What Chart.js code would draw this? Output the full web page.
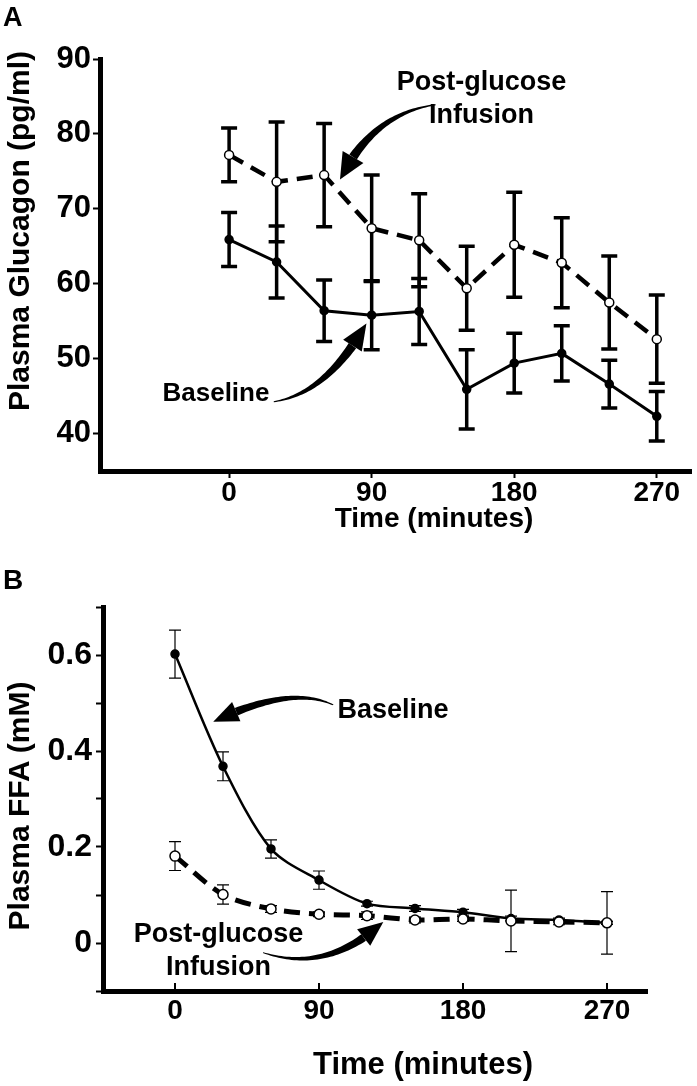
<!DOCTYPE html>
<html>
<head>
<meta charset="utf-8">
<script src="https://cdn.jsdelivr.net/npm/chart.js@4.4.1/dist/chart.umd.min.js"></script>
<style>
  html, body { margin: 0; padding: 0; background: #fff; }
  body { width: 697px; height: 1086px; position: relative; overflow: hidden;
         font-family: "Liberation Sans", Arial, sans-serif; font-weight: bold; color: #000; }
  .panel { position: absolute; left: 0; width: 697px; }
  .lbl { position: absolute; line-height: 1; white-space: nowrap; }
  .ctr { transform: translate(-50%, -50%); }
  .rot { transform: translate(-50%, -50%) rotate(-90deg); }
</style>
</head>
<body>
<div class="panel" style="top:0;height:545px"><canvas id="glucagonChart"></canvas></div>
<div class="panel" style="top:545px;height:541px"><canvas id="ffaChart"></canvas></div>

<div class="lbl" style="left:3px;top:4px;font-size:27px">A</div>
<div class="lbl" style="left:3px;top:566px;font-size:28px">B</div>
<div class="lbl rot" style="left:19px;top:231px;font-size:30px">Plasma Glucagon (pg/ml)</div>
<div class="lbl ctr" style="left:434px;top:518px;font-size:28px">Time (minutes)</div>
<div class="lbl rot" style="left:19px;top:806px;font-size:30px">Plasma FFA (mM)</div>
<div class="lbl ctr" style="left:423px;top:1063px;font-size:31px">Time (minutes)</div>

<script>
// sampling times (minutes)
const times = [0, 30, 60, 90, 120, 150, 180, 210, 240, 270];

// panel A - plasma glucagon (pg/ml), mean and SEM
const glucBaseline = [65.9, 62.9, 56.4, 55.8, 56.3, 45.9, 49.4, 50.7, 46.6, 42.3];
const glucBaselineErr = [3.6, 4.8, 4.1, 4.6, 4.4, 5.3, 4.0, 3.7, 3.2, 3.3];
const glucPost = [77.2, 73.6, 74.5, 67.4, 65.8, 59.4, 65.2, 62.8, 57.5, 52.6];
const glucPostErr = [3.6, 8.0, 6.9, 7.1, 6.2, 5.6, 7.0, 6.0, 6.2, 5.9];

// panel B - plasma FFA (mM), mean and SEM
const ffaBaseline = [0.602, 0.368, 0.196, 0.131, 0.082, 0.072, 0.064, 0.051, 0.048, 0.042];
const ffaBaselineErr = [0.050, 0.030, 0.019, 0.019, 0.005, 0.006, 0.006, 0.005, 0.004, 0.003];
const ffaPost = [0.181, 0.101, 0.071, 0.060, 0.057, 0.048, 0.050, 0.046, 0.044, 0.042];
const ffaPostErr = [0.030, 0.020, 0.007, 0.005, 0.008, 0.006, 0.005, 0.064, 0.006, 0.065];

// tick labels
const timeTicks = [0, 90, 180, 270];
const glucTicks = [40, 50, 60, 70, 80, 90];
const ffaTicks = [-0.1, 0, 0.1, 0.2, 0.3, 0.4, 0.5, 0.6, 0.7];
const ffaLabelled = [0, 0.2, 0.4, 0.6];

const FONT = '"Liberation Sans", Arial, sans-serif';

function toPoints(values) {
    return values.map(function (v, i) { return { x: times[i], y: v }; });
}

// tapered curved arrow (quadratic bezier) with a filled head
function drawArrow(ctx, p0, c, p2, w0, w1, headLen, headW) {
    const at = function (u) {
        return {
            x: (1 - u) * (1 - u) * p0.x + 2 * (1 - u) * u * c.x + u * u * p2.x,
            y: (1 - u) * (1 - u) * p0.y + 2 * (1 - u) * u * c.y + u * u * p2.y
        };
    };
    let uh = 1;
    for (let u = 1; u > 0; u -= 0.002) {
        const q = at(u);
        if (Math.hypot(q.x - p2.x, q.y - p2.y) >= headLen) { uh = u; break; }
    }
    const n = 40, left = [], right = [];
    for (let i = 0; i <= n; i++) {
        const u = uh * i / n, q = at(u);
        const dx = 2 * (1 - u) * (c.x - p0.x) + 2 * u * (p2.x - c.x);
        const dy = 2 * (1 - u) * (c.y - p0.y) + 2 * u * (p2.y - c.y);
        const len = Math.hypot(dx, dy) || 1;
        const w = (w0 + (w1 - w0) * i / n) / 2;
        left.push([q.x - dy / len * w, q.y + dx / len * w]);
        right.push([q.x + dy / len * w, q.y - dx / len * w]);
    }
    ctx.beginPath();
    left.forEach(function (p, i) { i ? ctx.lineTo(p[0], p[1]) : ctx.moveTo(p[0], p[1]); });
    right.reverse().forEach(function (p) { ctx.lineTo(p[0], p[1]); });
    ctx.closePath();
    ctx.fill();

    const b = at(uh);
    const hx = p2.x - b.x, hy = p2.y - b.y, hl = Math.hypot(hx, hy) || 1;
    ctx.beginPath();
    ctx.moveTo(p2.x, p2.y);
    ctx.lineTo(b.x - hy / hl * headW / 2, b.y + hx / hl * headW / 2);
    ctx.lineTo(b.x + hy / hl * headW / 2, b.y - hx / hl * headW / 2);
    ctx.closePath();
    ctx.fill();
}

const errorBars = {
    id: 'errorBars',
    beforeDatasetsDraw(chart, args, opts) {
        const ctx = chart.ctx, ys = chart.scales.y;
        ctx.save();
        ctx.strokeStyle = '#000';
        ctx.lineWidth = opts.width;
        chart.data.datasets.forEach(function (ds, i) {
            chart.getDatasetMeta(i).data.forEach(function (pt, j) {
                const v = ds.data[j].y, e = ds.errors[j];
                const top = ys.getPixelForValue(v + e), bot = ys.getPixelForValue(v - e);
                ctx.beginPath();
                ctx.moveTo(pt.x, top); ctx.lineTo(pt.x, bot);
                ctx.moveTo(pt.x - opts.cap, top); ctx.lineTo(pt.x + opts.cap, top);
                ctx.moveTo(pt.x - opts.cap, bot); ctx.lineTo(pt.x + opts.cap, bot);
                ctx.stroke();
            });
        });
        ctx.restore();
    }
};

const callouts = {
    id: 'callouts',
    afterDatasetsDraw(chart, args, opts) {
        const ctx = chart.ctx, xs = chart.scales.x, ys = chart.scales.y;
        const px = function (p) { return { x: xs.getPixelForValue(p[0]), y: ys.getPixelForValue(p[1]) }; };
        ctx.save();
        ctx.fillStyle = '#000';
        ctx.strokeStyle = '#000';
        ctx.textAlign = 'center';
        ctx.textBaseline = 'middle';
        opts.texts.forEach(function (t) {
            const p = px(t.at);
            ctx.font = 'bold ' + t.size + 'px ' + FONT;
            ctx.fillText(t.text, p.x, p.y);
        });
        opts.arrows.forEach(function (a) {
            drawArrow(ctx, px(a.from), px(a.bend), px(a.to), 1, a.width, a.head, a.headW);
        });
        // inward x ticks (panel B)
        if (opts.innerTicks) {
            ctx.lineWidth = 2;
            opts.innerTicks.forEach(function (t) {
                const x = xs.getPixelForValue(t);
                ctx.beginPath();
                ctx.moveTo(x, chart.chartArea.bottom);
                ctx.lineTo(x, chart.chartArea.bottom - 8);
                ctx.stroke();
            });
        }
        ctx.restore();
    }
};

function axisFont(size) {
    return { family: FONT, size: size, weight: 'bold', lineHeight: 1 };
}

function lineSet(label, values, errors, dashed, open, width, radius, tension) {
    return {
        label: label,
        data: toPoints(values),
        errors: errors,
        borderColor: '#000',
        borderWidth: width,
        borderDash: dashed ? [16, 9] : [],
        pointRadius: radius,
        pointBackgroundColor: open ? '#fff' : '#000',
        pointBorderColor: '#000',
        pointBorderWidth: 1.5,
        tension: tension,
        fill: false
    };
}

new Chart(document.getElementById('glucagonChart'), {
    type: 'line',
    data: {
        datasets: [
            lineSet('Post-glucose Infusion', glucPost, glucPostErr, true, true, 4.5, 4.5, 0),
            lineSet('Baseline', glucBaseline, glucBaselineErr, false, false, 3, 4, 0)
        ]
    },
    options: {
        responsive: true,
        maintainAspectRatio: false,
        animation: false,
        events: [],
        layout: { padding: { top: 59, right: 2, left: 0, bottom: 0 } },
        plugins: {
            legend: { display: false },
            tooltip: { enabled: false },
            errorBars: { width: 3.5, cap: 8 },
            callouts: {
                texts: [
                    { text: 'Post-glucose', at: [159.3, 86.8], size: 27 },
                    { text: 'Infusion', at: [159.3, 82.4], size: 27 },
                    { text: 'Baseline', at: [-8.3, 45.3], size: 26 }
                ],
                arrows: [
                    { from: [130.4, 83.9], bend: [90.3, 82.7], to: [70.0, 73.9], width: 9, head: 26, headW: 24 },
                    { from: [28.2, 44.25], bend: [61.8, 45.35], to: [86.7, 54.7], width: 9, head: 26, headW: 22 }
                ]
            }
        },
        scales: {
            x: {
                type: 'linear', min: -81.5, max: 291.6,
                afterBuildTicks: function (s) { s.ticks = timeTicks.map(function (v) { return { value: v }; }); },
                afterFit: function (s) { s.height = 74; },
                border: { display: true, color: '#000', width: 5 },
                grid: { drawOnChartArea: false, color: '#000', tickLength: 7, tickWidth: 2 },
                ticks: { color: '#000', font: axisFont(28), padding: 1, maxRotation: 0, autoSkip: false }
            },
            y: {
                min: 35, max: 90,
                afterBuildTicks: function (s) { s.ticks = glucTicks.map(function (v) { return { value: v }; }); },
                afterFit: function (s) { s.width = 100; },
                border: { display: true, color: '#000', width: 5 },
                grid: { drawOnChartArea: false, color: '#000', tickLength: 7, tickWidth: 2 },
                ticks: { color: '#000', font: axisFont(31), padding: 2, autoSkip: false }
            }
        }
    },
    plugins: [errorBars, callouts]
});

new Chart(document.getElementById('ffaChart'), {
    type: 'line',
    data: {
        datasets: [
            // first dataset is drawn on top: open circles cover the filled ones
            lineSet('Post-glucose Infusion', ffaPost, ffaPostErr, true, true, 5, 5, 0.3),
            lineSet('Baseline', ffaBaseline, ffaBaselineErr, false, false, 2.5, 4, 0.3)
        ]
    },
    options: {
        responsive: true,
        maintainAspectRatio: false,
        animation: false,
        events: [],
        layout: { padding: { top: 62, right: 50, left: 0, bottom: 0 } },
        plugins: {
            legend: { display: false },
            tooltip: { enabled: false },
            errorBars: { width: 1.2, cap: 6 },
            callouts: {
                texts: [
                    { text: 'Baseline', at: [136.3, 0.485], size: 27 },
                    { text: 'Post-glucose', at: [27.2, 0.017], size: 27 },
                    { text: 'Infusion', at: [27.2, -0.051], size: 27 }
                ],
                arrows: [
                    { from: [98.9, 0.496], bend: [72.3, 0.538], to: [23.9, 0.461], width: 8, head: 25, headW: 21 },
                    { from: [55, -0.020], bend: [94.9, -0.064], to: [130.2, 0.044], width: 8, head: 25, headW: 21 }
                ],
                innerTicks: timeTicks
            }
        },
        scales: {
            x: {
                type: 'linear', min: -45, max: 295,
                afterBuildTicks: function (s) { s.ticks = timeTicks.map(function (v) { return { value: v }; }); },
                afterFit: function (s) { s.height = 95; },
                border: { display: true, color: '#000', width: 5 },
                grid: { drawOnChartArea: false, drawTicks: false, color: '#000' },
                ticks: { color: '#000', font: axisFont(28), padding: 6, maxRotation: 0, autoSkip: false }
            },
            y: {
                min: -0.1, max: 0.7,
                afterBuildTicks: function (s) { s.ticks = ffaTicks.map(function (v) { return { value: v }; }); },
                afterFit: function (s) { s.width = 103; },
                border: { display: true, color: '#000', width: 5 },
                grid: { drawOnChartArea: false, color: '#000', tickLength: 7, tickWidth: 2 },
                ticks: {
                    color: '#000', font: axisFont(32), padding: 4, autoSkip: false,
                    callback: function (v) {
                        const r = Math.round(v * 10) / 10;
                        if (ffaLabelled.indexOf(r) < 0) return '';
                        return r === 0 ? '0' : r.toFixed(1);
                    }
                }
            }
        }
    },
    plugins: [errorBars, callouts]
});
</script>
</body>
</html>
